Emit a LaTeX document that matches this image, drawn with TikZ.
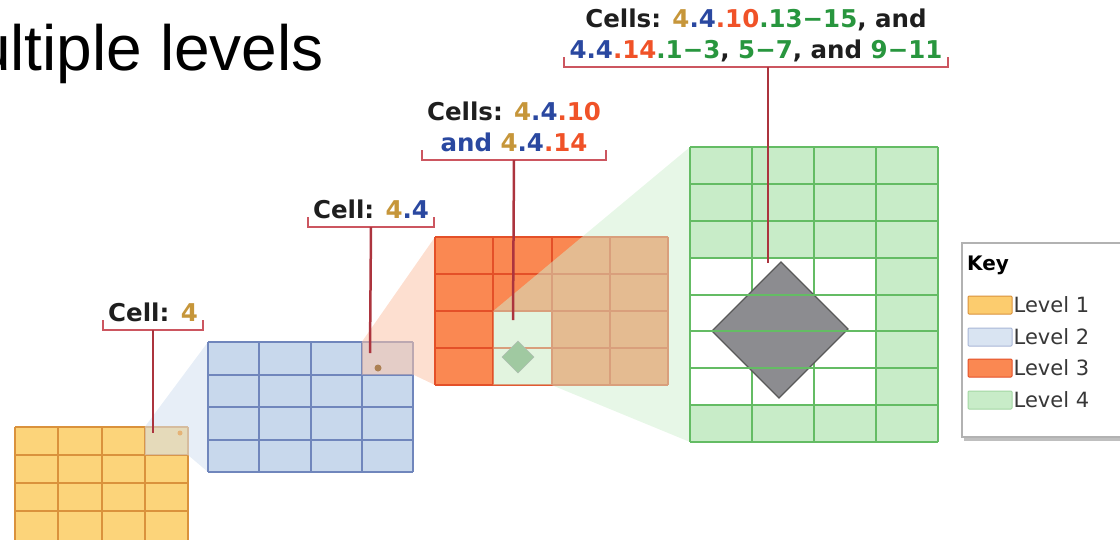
\documentclass[tikz,border=0pt]{standalone}
\usepackage{fontspec}
\setmainfont{DejaVu Sans}
\newfontfamily\titlefont{Liberation Sans}
\usetikzlibrary{positioning}

\definecolor{lvone}{RGB}{252,212,122}
\definecolor{lvoneline}{RGB}{218,146,60}
\definecolor{lvtwo}{RGB}{200,216,236}
\definecolor{lvtwoline}{RGB}{112,134,188}
\definecolor{lvthree}{RGB}{250,136,82}
\definecolor{lvthreeline}{RGB}{228,80,40}
\definecolor{lvfour}{RGB}{200,236,200}
\definecolor{lvfourline}{RGB}{100,188,100}
\definecolor{cellpale}{RGB}{246,250,240}
\definecolor{diagray}{RGB}{140,140,144}
\definecolor{brkred}{RGB}{204,86,96}
\definecolor{leadred}{RGB}{172,52,62}
\definecolor{labelink}{RGB}{30,30,30}
\definecolor{keyink}{RGB}{55,55,55}
\definecolor{cgold}{RGB}{198,150,58}
\definecolor{cblue}{RGB}{42,72,160}
\definecolor{cred}{RGB}{240,82,40}
\definecolor{cgreen}{RGB}{40,150,62}

\newcommand{\txtgold}[1]{\textcolor{cgold}{#1}}
\newcommand{\txtblue}[1]{\textcolor{cblue}{#1}}
\newcommand{\txtred}[1]{\textcolor{cred}{#1}}
\newcommand{\txtgreen}[1]{\textcolor{cgreen}{#1}}

\begin{document}
\begin{tikzpicture}[x=1pt,y=-1pt,
    lbl/.style={anchor=south, align=center, inner xsep=5pt, inner ysep=8pt, text depth=0pt,
      font=\fontsize{24.5}{31}\selectfont\bfseries, text=labelink},
    bracket/.style={draw=brkred, line width=2pt},
    leader/.style={draw=leadred, line width=2.5pt},
    gridline/.style={line width=2pt},
    swatch/.style={minimum width=44pt, minimum height=18pt, inner sep=0pt, line width=1pt, rounded corners=1pt},
    keytxt/.style={font=\fontsize{21}{21}\selectfont, text=keyink, inner sep=0pt, anchor=west}]
  \useasboundingbox (0,0) rectangle (1120,539);
  \clip (0,0) rectangle (1120,539);

  \node[anchor=base east, inner sep=0pt, font=\titlefont\fontsize{64}{64}\selectfont] (title) at (324,70) {Multiple levels};

  % level 1
  \fill[lvone] (15,427) rectangle (188,542);
  \foreach \i in {0,...,4} \draw[lvoneline, gridline] ({15+\i*43.25},427) -- ++(0,115);
  \foreach \j in {0,...,3} \draw[lvoneline, gridline] (15,{427+\j*28}) -- ++(173,0);
  \fill[lvtwo!80!white, opacity=0.55] (144.75,427) -- (208,342) -- (208,472) -- (188,455) -- (144.75,455) -- cycle;
  \fill[lvoneline!70!white] (180,433) circle (2.5);

  % level 2
  \fill[lvtwo] (208,342) rectangle (413,472);
  \foreach \i in {0,...,4} \draw[lvtwoline, gridline] ({208+\i*51.25},342) -- ++(0,130);
  \foreach \j in {0,...,4} \draw[lvtwoline, gridline] (208,{342+\j*32.5}) -- ++(205,0);
  \fill[lvthree!50!white, opacity=0.55] (361.75,342) -- (435,237) -- (435,385) -- (413,374.5) -- (361.75,374.5) -- cycle;
  \fill[brown!70!gray] (378,368) circle (3.5);

  % level 3
  \fill[lvthree] (435,237) rectangle (668,385);
  \fill[cellpale] (493.25,311) rectangle (551.5,385);
  \foreach \i in {0,...,4} \draw[lvthreeline, gridline] ({435+\i*58.25},237) -- ++(0,148);
  \foreach \j in {0,...,4} \draw[lvthreeline, gridline] (435,{237+\j*37}) -- ++(233,0);
  \filldraw[fill=diagray!80!green, draw=diagray] (518,341) -- (534,357) -- (518,373) -- (502,357) -- cycle;
  \fill[lvfour!85!white, opacity=0.5] (493.25,311) -- (690,147) -- (690,442) -- (551.5,385) -- (493.25,385) -- cycle;

  % level 4
  \fill[lvfour] (690,147) rectangle (938,442);
  \fill[white] (690,257.6) rectangle (876,405.1);
  \foreach \i in {0,...,4} \draw[lvfourline, gridline] ({690+\i*62},147) -- ++(0,295);
  \filldraw[fill=diagray, draw=black!65, line width=1.2pt]
    (781,262) -- (848,329) -- (779,398) -- (712,331) -- cycle;
  \foreach \j in {0,...,8} \draw[lvfourline, gridline] (690,{147+\j*36.875}) -- ++(248,0);

  % callouts
  \coordinate (tip1) at (153,433);
  \coordinate (tip2) at (370,353);
  \coordinate (tip3) at (513,320);
  \coordinate (tip4) at (768,263);

  \node[lbl] (lab1) at (153,330) {Cell: \txtgold{4}};
  \node[lbl] (lab2) at (371,227) {Cell: \txtgold{4}\txtblue{.4}};
  \node[lbl] (lab3) at (514,160) {Cells: \txtgold{4}\txtblue{.4}\txtred{.10}\\
    \txtblue{and} \txtgold{4}\txtblue{.4}\txtred{.14}};
  \node[lbl] (lab4) at (756,67) {Cells: \txtgold{4}\txtblue{.4}\txtred{.10}\txtgreen{.13−15}, and\\
    \txtblue{4.4}\txtred{.14}\txtgreen{.1−3}, \txtgreen{5−7}, and \txtgreen{9−11}};

  \foreach \n in {lab1,lab2,lab3,lab4}
    \draw[bracket] ([yshift=10pt]\n.south west) -- (\n.south west) -- (\n.south east) -- ([yshift=10pt]\n.south east);
  \draw[leader] (lab1.south) -- (tip1);
  \draw[leader] (lab2.south) -- (tip2);
  \draw[leader] (lab3.south) -- (tip3);
  \draw[leader] (lab4.south -| tip4) -- (tip4);

  % key
  \fill[black!25] (964,436) rectangle (1140,441);
  \filldraw[fill=white, draw=black!30, line width=1.2pt] (962,243) rectangle (1140,437);
  \node[anchor=west, inner sep=0pt, font=\fontsize{20}{20}\selectfont\bfseries] (keyhd) at (967,265) {Key};
  \node[swatch, fill=lvone!90!orange, draw=lvoneline] (sw1) at (990,305) {};
  \node[swatch, fill=lvtwo!70!white, draw=lvtwoline!60!white] (sw2) at (990,337) {};
  \node[swatch, fill=lvthree, draw=lvthreeline] (sw3) at (990,368) {};
  \node[swatch, fill=lvfour, draw=lvfourline!60!white] (sw4) at (990,400) {};
  \node[keytxt, right=1pt of sw1] (kt1) {Level 1};
  \node[keytxt, right=1pt of sw2] (kt2) {Level 2};
  \node[keytxt, right=1pt of sw3] (kt3) {Level 3};
  \node[keytxt, right=1pt of sw4] (kt4) {Level 4};
\end{tikzpicture}
\end{document}
